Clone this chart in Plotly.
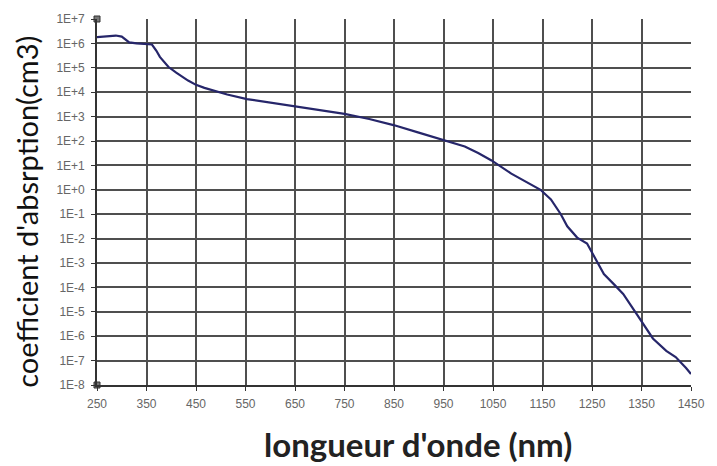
import plotly.graph_objects as go

# Absorption coefficient vs wavelength
wavelength_nm = [250, 270, 288, 300, 315, 330, 345, 361, 370, 377, 394, 410, 434, 450,
                 467, 490, 513, 553, 600, 651, 700, 750, 800, 849, 900, 948, 993, 1020,
                 1047, 1087, 1120, 1146, 1167, 1187, 1200, 1220, 1240, 1260, 1274, 1295,
                 1313, 1340, 1373, 1400, 1419, 1440, 1450]
absorption = [1.8e6, 1.9e6, 2.1e6, 1.9e6, 1.1e6, 1.0e6, 9.5e5, 9.0e5, 5.0e5, 2.8e5,
              1.1e5, 6.3e4, 3.0e4, 2.0e4, 1.5e4, 1.1e4, 8.0e3, 5.2e3, 3.7e3, 2.6e3,
              1.9e3, 1.3e3, 8.0e2, 4.5e2, 2.2e2, 1.1e2, 60, 32, 16, 4.6, 2.0, 1.0, 0.4,
              0.1, 0.032, 0.011, 6.3e-3, 1.2e-3, 3.5e-4, 1.3e-4, 5.4e-5, 8.3e-6, 8.1e-7,
              2.5e-7, 1.4e-7, 5.0e-8, 2.8e-8]

x_ticks = [250, 350, 450, 550, 650, 750, 850, 950, 1050, 1150, 1250, 1350, 1450]
y_exponents = [7, 6, 5, 4, 3, 2, 1, 0, -1, -2, -3, -4, -5, -6, -7, -8]
y_ticks = [10.0 ** e for e in y_exponents]
y_tick_labels = ["1E+7", "1E+6", "1E+5", "1E+4", "1E+3", "1E+2", "1E+1", "1E+0",
                 "1E-1", "1E-2", "1E-3", "1E-4", "1E-5", "1E-6", "1E-7", "1E-8"]

grid_color = "#4f4f4f"
tick_font = dict(family="Liberation Sans Narrow, Liberation Sans, Arial", size=12, color="#666666")

fig = go.Figure()
fig.add_trace(go.Scatter(
    x=wavelength_nm, y=absorption, mode="lines",
    line=dict(color="#26266a", width=2.2), showlegend=False,
))
# axis end markers
fig.add_trace(go.Scatter(
    x=[x_ticks[0], x_ticks[0]], y=[y_ticks[0], y_ticks[-1]], mode="markers",
    marker=dict(symbol="square", size=6, color="#777777", line=dict(color="#333", width=1)),
    showlegend=False, cliponaxis=False,
))

fig.update_xaxes(
    range=[x_ticks[0], x_ticks[-1]], tickvals=x_ticks, ticktext=[str(v) for v in x_ticks],
    showgrid=True, gridcolor=grid_color, gridwidth=1.6,
    showline=True, linecolor="#333333", linewidth=1.6,
    ticks="outside", ticklen=4, tickcolor="#333333", ticklabelstandoff=3,
    tickfont=tick_font, zeroline=False,
)
fig.update_yaxes(
    type="log", range=[-8, 7], tickvals=y_ticks, ticktext=y_tick_labels,
    showgrid=True, gridcolor=grid_color, gridwidth=1.6,
    showline=True, linecolor="#333333", linewidth=1.6,
    ticks="outside", ticklen=4, tickcolor="#333333", ticklabelstandoff=4,
    tickfont=tick_font, zeroline=False,
)

fig.add_annotation(
    text="coefficient d'absrption(cm3)", xref="paper", yref="paper",
    x=-0.118, y=0.473, xanchor="center", yanchor="middle", textangle=-90, showarrow=False,
    font=dict(family="Lato, Open Sans, sans-serif", size=29, color="#111111"),
)
fig.add_annotation(
    text="<b>longueur d'onde (nm)</b>", xref="paper", yref="paper",
    x=0.54, y=-0.162, xanchor="center", yanchor="middle", showarrow=False,
    font=dict(family="Lato, Open Sans, sans-serif", size=33, color="#222222"),
)

fig.update_layout(
    width=717, height=466,
    margin=dict(l=97, r=15, t=15, b=81),
    paper_bgcolor="white", plot_bgcolor="white",
)

fig.write_html("out.html")
